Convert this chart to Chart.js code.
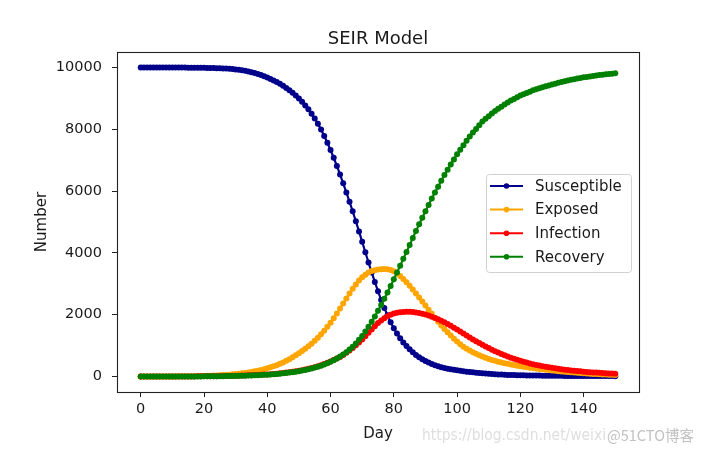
<!DOCTYPE html>
<html>
<head>
<meta charset="utf-8">
<title>SEIR Model</title>
<script src="https://cdn.jsdelivr.net/npm/chart.js@4.4.1/dist/chart.umd.min.js"></script>
<style>
  html, body { margin: 0; padding: 0; background: #fff; }
  #wrap { position: relative; width: 703px; height: 452px; }
</style>
</head>
<body>
<div id="wrap"><canvas id="seir-chart" width="703" height="452"></canvas></div>
<script>
// ==================== 데이터 ====================

// x: 0..150 일
const days = Array.from({ length: 151 }, (_, i) => i);
const xTicks = [0, 20, 40, 60, 80, 100, 120, 140];
const yTicks = [0, 2000, 4000, 6000, 8000, 10000];

const seriesLabels = ['Susceptible', 'Exposed', 'Infection', 'Recovery'];
const seriesColors = ['#00008b', '#ffa500', '#ff0000', '#008000'];

const susceptible = [
  9999, 9999, 9999, 9999, 9999, 9999, 9999, 9999, 9999, 9999,
  9998, 9998, 9997, 9996, 9995, 9994, 9993, 9992, 9991, 9990,
  9988, 9986, 9984, 9981, 9978, 9974, 9969, 9963, 9956, 9947,
  9936, 9923, 9908, 9890, 9869, 9845, 9818, 9787, 9752, 9713,
  9671, 9627, 9580, 9528, 9471, 9408, 9339, 9264, 9182, 9092,
  8994, 8888, 8772, 8645, 8505, 8350, 8178, 7990, 7785, 7565,
  7330, 7080, 6815, 6537, 6250, 5955, 5655, 5345, 5025, 4695,
  4360, 4020, 3690, 3370, 3060, 2760, 2480, 2220, 1980, 1760,
  1560, 1390, 1240, 1105, 985, 880, 785, 700, 625, 560,
  502, 451, 406, 367, 333, 303, 277, 254, 234, 216,
  200, 185, 171, 158, 146, 135, 124, 114, 105, 96,
  88, 81, 74, 68, 63, 58, 54, 50, 47, 44,
  41, 39, 37, 35, 33, 31, 30, 28, 27, 26,
  25, 24, 23, 22, 21, 20, 20, 19, 18, 18,
  17, 17, 16, 16, 15, 15, 15, 14, 14, 14,
  13
];

const exposed = [
  0, 1, 1, 1, 2, 2, 2, 3, 3, 4,
  4, 5, 6, 7, 8, 9, 11, 13, 15, 17,
  20, 23, 27, 31, 36, 41, 47, 54, 62, 71,
  81, 92, 104, 118, 133, 150, 169, 190, 213, 238,
  266, 297, 331, 369, 411, 457, 507, 562, 622, 687,
  757, 827, 901, 980, 1065, 1157, 1257, 1365, 1482, 1608,
  1743, 1886, 2041, 2201, 2364, 2527, 2687, 2839, 2981, 3108,
  3212, 3297, 3363, 3411, 3443, 3462, 3471, 3478, 3470, 3448,
  3405, 3335, 3250, 3155, 3050, 2935, 2815, 2690, 2560, 2430,
  2297, 2163, 2030, 1900, 1775, 1655, 1540, 1430, 1325, 1225,
  1130, 1045, 968, 900, 840, 785, 735, 688, 645, 605,
  570, 538, 508, 480, 455, 432, 410, 390, 370, 352,
  335, 319, 303, 288, 273, 259, 246, 233, 220, 208,
  196, 185, 174, 164, 154, 145, 136, 128, 120, 112,
  105, 98, 92, 86, 80, 75, 70, 65, 61, 57,
  53
];

const infection = [
  1, 1, 1, 1, 1, 1, 1, 2, 2, 2,
  2, 3, 3, 3, 4, 4, 5, 5, 6, 7,
  8, 9, 10, 11, 12, 14, 16, 18, 20, 22,
  25, 28, 31, 34, 38, 42, 47, 52, 57, 63,
  70, 77, 85, 94, 104, 115, 127, 140, 155, 171,
  188, 207, 227, 249, 273, 300, 330, 365, 405, 445,
  487, 532, 580, 635, 700, 770, 845, 925, 1010, 1100,
  1200, 1305, 1415, 1525, 1630, 1730, 1815, 1890, 1950, 2000,
  2038, 2065, 2082, 2092, 2096, 2094, 2088, 2076, 2058, 2034,
  2005, 1972, 1935, 1895, 1852, 1805, 1755, 1700, 1642, 1582,
  1520, 1455, 1390, 1325, 1262, 1200, 1140, 1082, 1026, 972,
  920, 870, 822, 776, 732, 690, 650, 612, 576, 542,
  510, 480, 452, 425, 400, 377, 355, 335, 316, 298,
  281, 265, 250, 236, 223, 211, 199, 188, 178, 168,
  159, 150, 142, 134, 127, 120, 114, 108, 102, 97,
  92
];

const recovery = [
  0, 0, 0, 0, 0, 1, 1, 1, 1, 1,
  1, 2, 2, 2, 2, 3, 3, 4, 4, 5,
  6, 6, 7, 8, 9, 11, 12, 14, 15, 17,
  20, 22, 25, 28, 31, 35, 39, 44, 49, 55,
  61, 68, 76, 84, 94, 104, 116, 128, 142, 158,
  175, 194, 215, 237, 262, 289, 319, 352, 389, 432,
  480, 530, 585, 645, 712, 788, 872, 967, 1072, 1188,
  1315, 1455, 1607, 1770, 1944, 2127, 2318, 2516, 2720, 2930,
  3145, 3363, 3584, 3808, 4033, 4258, 4483, 4705, 4925, 5135,
  5345, 5553, 5760, 5952, 6142, 6332, 6520, 6690, 6858, 7025,
  7190, 7337, 7482, 7627, 7770, 7892, 8012, 8132, 8250, 8337,
  8422, 8507, 8592, 8662, 8732, 8802, 8870, 8927, 8982, 9037,
  9090, 9134, 9176, 9218, 9260, 9293, 9326, 9359, 9392, 9420,
  9448, 9476, 9504, 9528, 9552, 9576, 9600, 9620, 9640, 9660,
  9680, 9695, 9710, 9725, 9740, 9755, 9766, 9777, 9788, 9799,
  9810
];

const seriesValues = [susceptible, exposed, infection, recovery];

// ==================== 차트 ====================

const FONT = '"DejaVu Sans", "Liberation Sans", sans-serif';
const TEXT_COLOR = '#1a1a1a';

// 프레임, 제목, 축 제목, 범례, 워터마크
const decorPlugin = {
  id: 'decor',
  afterDatasetsDraw(chart) {
    const ctx = chart.ctx;
    const a = chart.chartArea;
    ctx.save();

    // 축 테두리 (4면)
    ctx.strokeStyle = '#222';
    ctx.lineWidth = 1.1;
    ctx.strokeRect(a.left + 0.5, a.top + 0.5, a.right - a.left, a.bottom - a.top);

    // 제목
    ctx.fillStyle = TEXT_COLOR;
    ctx.font = '18px ' + FONT;
    ctx.textAlign = 'center';
    ctx.textBaseline = 'alphabetic';
    ctx.fillText('SEIR Model', (a.left + a.right) / 2, 44);

    // 축 제목
    ctx.font = '15px ' + FONT;
    ctx.fillText('Day', (a.left + a.right) / 2, 438);
    ctx.save();
    ctx.translate(46, (a.top + a.bottom) / 2);
    ctx.rotate(-Math.PI / 2);
    ctx.fillText('Number', 0, 0);
    ctx.restore();

    // 범례
    const lx = 486, ly = 174, lw = 145, lh = 98;
    ctx.beginPath();
    ctx.roundRect(lx + 0.5, ly + 0.5, lw, lh, 3);
    ctx.fillStyle = 'rgba(255,255,255,0.8)';
    ctx.fill();
    ctx.strokeStyle = '#d0d0d0';
    ctx.lineWidth = 1;
    ctx.stroke();

    ctx.font = '15px ' + FONT;
    ctx.textAlign = 'left';
    ctx.textBaseline = 'middle';
    seriesLabels.forEach((label, i) => {
      const y = 186 + i * 23.6;
      ctx.strokeStyle = seriesColors[i];
      ctx.lineWidth = 2;
      ctx.beginPath();
      ctx.moveTo(490, y);
      ctx.lineTo(523, y);
      ctx.stroke();
      ctx.fillStyle = seriesColors[i];
      ctx.beginPath();
      ctx.arc(506.5, y, 2.8, 0, Math.PI * 2);
      ctx.fill();
      ctx.fillStyle = TEXT_COLOR;
      ctx.fillText(label, 535, y + 1);
    });

    // 워터마크
    ctx.textBaseline = 'alphabetic';
    ctx.font = '16px ' + FONT;
    ctx.fillStyle = '#dedede';
    ctx.fillText('https://blog.csdn.net/weixi', 422, 440, 184);
    ctx.font = '15px "Noto Sans CJK SC", ' + FONT;
    ctx.fillStyle = '#c2c2c2';
    ctx.fillText('@51CTO博客', 607, 441, 87);

    ctx.restore();
  }
};

const tickFont = { family: FONT, size: 14.5 };

const datasets = seriesLabels.map((label, i) => ({
  label: label,
  data: days.map((d, k) => ({ x: d, y: seriesValues[i][k] })),
  borderColor: seriesColors[i],
  backgroundColor: seriesColors[i],
  pointBackgroundColor: seriesColors[i],
  borderWidth: 2.2,
  pointRadius: 3,
  pointBorderWidth: 0,
  pointStyle: 'circle',
  tension: 0,
  fill: false,
  order: seriesLabels.length - i   // 나중 시리즈가 위에 그려지도록
}));

const ctx = document.getElementById('seir-chart').getContext('2d');
new Chart(ctx, {
  type: 'line',
  data: { datasets: datasets },
  options: {
    responsive: false,
    animation: false,
    devicePixelRatio: 1,
    layout: { padding: { top: 52, right: 64, bottom: 0, left: 0 } },
    plugins: {
      legend: { display: false },
      tooltip: { enabled: false },
      title: { display: false }
    },
    scales: {
      x: {
        type: 'linear',
        min: -7.5,
        max: 157.5,
        afterBuildTicks: s => { s.ticks = xTicks.map(v => ({ value: v })); },
        afterFit: s => { s.height = 60; },
        border: { display: false },
        grid: { drawOnChartArea: false, drawTicks: true, tickLength: 5, color: '#222' },
        ticks: { color: TEXT_COLOR, font: tickFont, padding: 4, maxRotation: 0, autoSkip: false,
                 callback: v => String(v) }
      },
      y: {
        type: 'linear',
        min: -500,
        max: 10500,
        afterBuildTicks: s => { s.ticks = yTicks.map(v => ({ value: v })); },
        afterFit: s => { s.width = 117; },
        border: { display: false },
        grid: { drawOnChartArea: false, drawTicks: true, tickLength: 5, color: '#222' },
        ticks: { color: TEXT_COLOR, font: tickFont, padding: 10, autoSkip: false,
                 callback: v => String(v) }
      }
    }
  },
  plugins: [decorPlugin]
});
</script>
</body>
</html>
